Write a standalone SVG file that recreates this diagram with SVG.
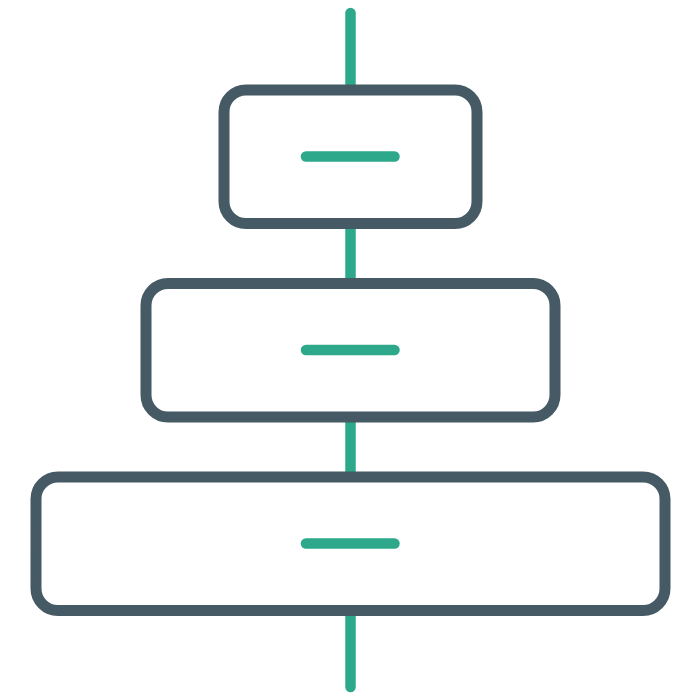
<svg xmlns="http://www.w3.org/2000/svg" width="700" height="700" viewBox="0 0 700 700">
<style>
.box{fill:#fff;stroke:#455A64;stroke-width:11}
.g{stroke:#2DA88A;stroke-width:10.5;stroke-linecap:round;fill:none}
</style>
<rect width="700" height="700" fill="#fff"/>
<g id="connectors">
<line class="g" x1="350.5" y1="13" x2="350.5" y2="687"/>
</g>
<g id="node1">
<rect class="box" x="224" y="90" width="253" height="133.5" rx="22"/>
<line class="g" x1="306" y1="156.5" x2="394.5" y2="156.5"/>
</g>
<g id="node2">
<rect class="box" x="146" y="283.5" width="409" height="133.5" rx="22"/>
<line class="g" x1="306" y1="350" x2="394.5" y2="350"/>
</g>
<g id="node3">
<rect class="box" x="36" y="477" width="629" height="133.5" rx="22"/>
<line class="g" x1="306" y1="543.5" x2="394.5" y2="543.5"/>
</g>
</svg>
